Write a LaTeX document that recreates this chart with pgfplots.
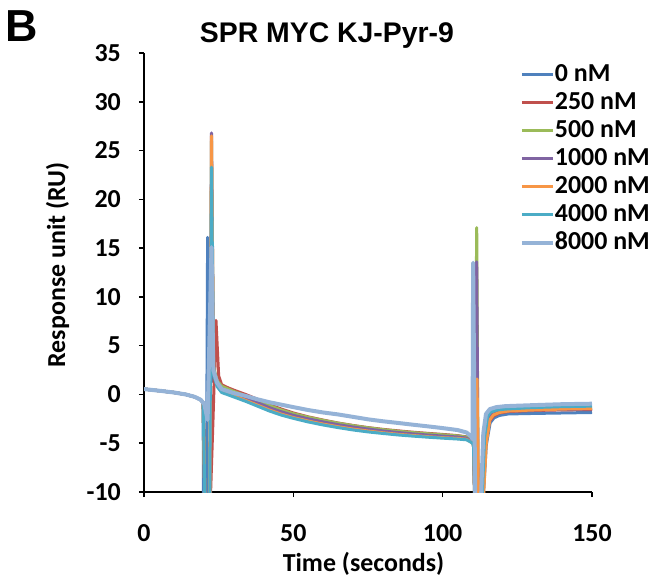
\documentclass[border=0pt]{standalone}
\usepackage{fontspec}
\setmainfont{Carlito}
\newfontfamily\arialfont{Liberation Sans}
\usepackage{pgfplots}
\pgfplotsset{compat=1.18}
\definecolor{cA}{HTML}{4F81BD}
\definecolor{cB}{HTML}{C0504D}
\definecolor{cC}{HTML}{9BBB59}
\definecolor{cD}{HTML}{8064A2}
\definecolor{cE}{HTML}{F79646}
\definecolor{cF}{HTML}{4BACC6}
\definecolor{cG}{HTML}{95B3D7}
\begin{document}
\begin{tikzpicture}
\useasboundingbox (0,0) rectangle (669bp,583bp);
\node[anchor=base west, font=\arialfont\bfseries\fontsize{45}{45}\selectfont, inner sep=0pt] at (5bp,541bp) {B};
\node[anchor=base, font=\arialfont\bfseries\fontsize{28.5}{28.5}\selectfont, inner sep=0pt] at (327bp,540bp) {SPR MYC KJ-Pyr-9};
\begin{axis}[
  at={(144bp,91bp)}, anchor=south west,
  scale only axis, width=448bp, height=439bp,
  xmin=0, xmax=150, ymin=-10, ymax=35,
  enlargelimits=false,
  axis x line=bottom, axis y line=left,
  axis line style={-, line width=1.6bp, black},
  every tick/.style={line width=1.6bp, black},
  tick align=outside, major tick length=5bp,
  xtick={0,50,100,150},
  ytick={-10,-5,0,5,10,15,20,25,30,35},
  /pgf/number format/assume math mode=true,
  tick label style={font=\bfseries\fontsize{26}{26}\selectfont},
  yticklabel style={inner sep=0pt, xshift=-18bp},
  xticklabel style={inner sep=0pt, yshift=-27bp},
  xlabel={Time (seconds)},
  ylabel={Response unit (RU)},
  label style={font=\bfseries\fontsize{26}{26}\selectfont, inner sep=0pt},
  xlabel style={at={(axis description cs:0.49,-0.18)}, anchor=base},
  ylabel style={at={(axis description cs:-0.1763,0.517)}, anchor=base, rotate=0},
  legend style={at={(rel axis cs:0.832,0.984)}, anchor=north west, draw=none, fill=none,
    font=\bfseries\fontsize{26}{26}\selectfont,
    nodes={inner sep=0pt, text height=19bp, text depth=6bp},
    row sep=3bp,
    /tikz/every even column/.append style={column sep=3bp}},
  legend cell align=left,
  legend image code/.code={\draw[#1] (0bp,0bp) -- (31bp,0bp);},
  every axis plot/.append style={line width=3bp, line join=round},
]
\addplot[cA] coordinates {(0,0.55) (3,0.45) (6,0.35) (10,0.2) (14,0.0) (17,-0.25) (19,-0.55) (19.8,-0.85)
 (19.9,-11) (20.9,-11) (21.3,16.1) (22.0,2.5) (23,1.4) (24.5,1.0)
 (26,0.7) (28,0.45) (30,0.2) (34,-0.25) (38,-0.75) (42,-1.25) (46,-1.68) (50,-2.04) (55,-2.4) (60,-2.72) (65,-3.0) (70,-3.25) (75,-3.46) (80,-3.65) (85,-3.81) (90,-3.95) (95,-4.07) (100,-4.18) (105,-4.28) (108,-4.42) (109.5,-4.78) (110.3,-5.0)
 (110.8,-11) (113.5,-11) (114.6,-5.2) (115.9,-2.9) (117.2,-2.4) (119,-2.15) (122,-2.0) (130,-1.95) (140,-1.9) (150,-1.85)};
\addlegendentry{0 nM}
\addplot[cB] coordinates {(0,0.55) (3,0.45) (6,0.35) (10,0.2) (14,0.0) (17,-0.25) (19,-0.55) (19.8,-0.85)
 (20.4,-11) (22.2,-11) (23.1,-2.6) (24.1,7.6) (25,1.9)
 (26,1.0) (28,0.7) (30,0.45) (34,0.0) (38,-0.5) (42,-1.05) (46,-1.5) (50,-1.9) (55,-2.3) (60,-2.63) (65,-2.93) (70,-3.18) (75,-3.4) (80,-3.58) (85,-3.73) (90,-3.87) (95,-3.99) (100,-4.1) (105,-4.22) (108,-4.35) (109.5,-4.7) (110.3,-4.95)
 (110.8,-11) (113.4,-11) (114.4,-5) (115.6,-2.8) (117,-2.2) (119,-1.9) (122,-1.75) (130,-1.65) (140,-1.58) (150,-1.55)};
\addlegendentry{250 nM}
\addplot[cC] coordinates {(0,0.55) (3,0.45) (6,0.35) (10,0.2) (14,0.0) (17,-0.25) (19,-0.55) (19.8,-0.85)
 (20.4,-11) (22.0,-11) (22.6,26.0) (23.3,2.8) (24.5,1.4)
 (26,0.85) (28,0.58) (30,0.32) (34,-0.15) (38,-0.65) (42,-1.15) (46,-1.6) (50,-1.97) (55,-2.34) (60,-2.66) (65,-2.95) (70,-3.2) (75,-3.42) (80,-3.61) (85,-3.77) (90,-3.91) (95,-4.03) (100,-4.14) (105,-4.25) (108,-4.38) (109.5,-4.75) (110.3,-5.0)
 (110.7,-11) (111.4,17.1) (111.9,-11) (113.2,-11) (114.1,-4.6) (115.1,-2.5) (116.2,-2.0) (118,-1.75) (121,-1.6) (130,-1.5) (140,-1.42) (150,-1.38)};
\addlegendentry{500 nM}
\addplot[cD] coordinates {(0,0.55) (3,0.45) (6,0.35) (10,0.2) (14,0.0) (17,-0.25) (19,-0.55) (19.8,-0.85)
 (20.4,-11) (22.0,-11) (22.6,26.8) (23.3,2.6) (24.5,1.2)
 (26,0.6) (28,0.35) (30,0.1) (34,-0.35) (38,-0.85) (42,-1.35) (46,-1.78) (50,-2.14) (55,-2.5) (60,-2.82) (65,-3.1) (70,-3.34) (75,-3.55) (80,-3.74) (85,-3.9) (90,-4.04) (95,-4.16) (100,-4.27) (105,-4.36) (108,-4.48) (109.5,-4.8) (110.3,-5.0)
 (110.7,-11) (111.4,13.6) (111.9,-11) (113.3,-11) (114.2,-4.8) (115.3,-2.6) (116.5,-2.1) (118.5,-1.85) (121,-1.7) (130,-1.6) (140,-1.52) (150,-1.48)};
\addlegendentry{1000 nM}
\addplot[cE] coordinates {(0,0.55) (3,0.45) (6,0.35) (10,0.2) (14,0.0) (17,-0.25) (19,-0.55) (19.8,-0.85)
 (20.4,-11) (22.0,-11) (22.6,26.5) (23.3,2.3) (24.5,1.0)
 (26,0.35) (28,0.1) (30,-0.15) (34,-0.6) (38,-1.1) (42,-1.6) (46,-2.02) (50,-2.37) (55,-2.73) (60,-3.04) (65,-3.31) (70,-3.55) (75,-3.75) (80,-3.93) (85,-4.08) (90,-4.21) (95,-4.33) (100,-4.43) (105,-4.51) (108,-4.6) (109.5,-4.88) (110.3,-5.05)
 (110.8,-11) (111.5,1.6) (112,-11) (113.6,-11) (114.6,-5) (115.8,-2.6) (117,-2.1) (119,-1.85) (122,-1.7) (130,-1.6) (140,-1.5) (150,-1.45)};
\addlegendentry{2000 nM}
\addplot[cF] coordinates {(0,0.55) (3,0.45) (6,0.35) (10,0.2) (14,0.0) (17,-0.25) (19,-0.55) (19.8,-0.85)
 (20.4,-11) (22.0,-11) (22.6,23.3) (23.3,2.0) (24.5,0.8)
 (26,0.2) (28,-0.02) (30,-0.25) (34,-0.7) (38,-1.2) (42,-1.7) (46,-2.12) (50,-2.45) (55,-2.82) (60,-3.13) (65,-3.4) (70,-3.64) (75,-3.84) (80,-4.0) (85,-4.15) (90,-4.27) (95,-4.38) (100,-4.48) (105,-4.57) (108,-4.65) (109.5,-4.9) (110.3,-5.1)
 (110.8,-11) (113.2,-11) (114,-4.5) (115,-2.3) (116,-1.8) (118,-1.6) (121,-1.5) (130,-1.35) (140,-1.25) (150,-1.2)};
\addlegendentry{4000 nM}
\addplot[cG, line width=4bp] coordinates {(0,0.55) (3,0.45) (6,0.35) (10,0.2) (14,0.0) (17,-0.25) (19,-0.55) (19.8,-0.85)
 (20.2,-1.0) (21.3,-2.6) (22.6,15.1) (23.2,2.5) (24.5,1.2)
 (26,0.55) (28,0.35) (30,0.15) (34,-0.15) (38,-0.5) (42,-0.8) (46,-1.05) (50,-1.3) (55,-1.6) (60,-1.85) (65,-2.05) (70,-2.3) (75,-2.55) (80,-2.75) (85,-2.92) (90,-3.1) (95,-3.27) (100,-3.45) (105,-3.65) (108,-3.9) (109.5,-4.3) (110.0,-4.6)
 (110.2,13.5) (110.9,-11) (112.8,-11) (113.6,-4) (114.5,-2.0) (115.8,-1.5) (118,-1.3) (121,-1.2) (130,-1.1) (140,-1.0) (150,-0.95)};
\addlegendentry{8000 nM}
\end{axis}
\end{tikzpicture}
\end{document}
